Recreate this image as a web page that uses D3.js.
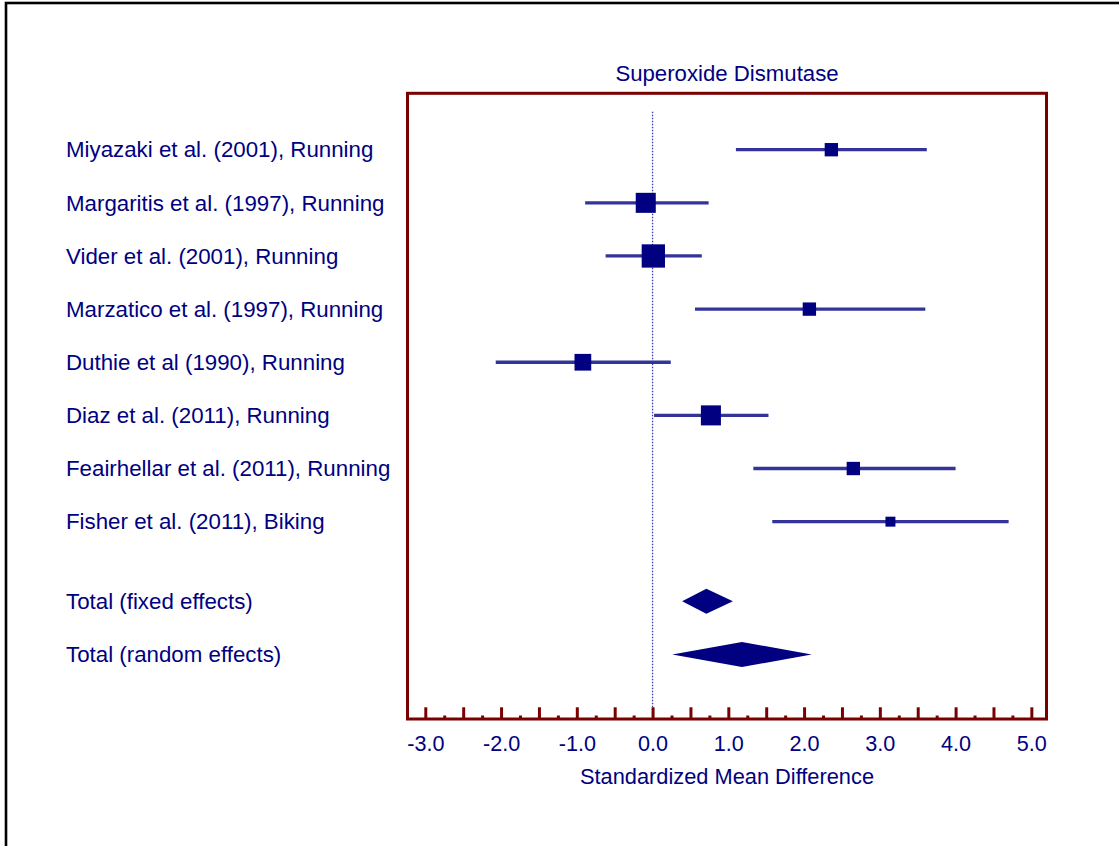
<!DOCTYPE html>
<html>
<head>
<meta charset="utf-8">
<script src="https://cdn.jsdelivr.net/npm/d3@7"></script>
<style>
  html, body { margin: 0; padding: 0; background: #fff; overflow: hidden; }
  svg { display: block; }
  text { font-family: Arial, "Liberation Sans", sans-serif; fill: #000080; }
</style>
</head>
<body>
<svg id="chart" width="1119" height="846"></svg>
<script>
// Forest plot: superoxide dismutase, standardized mean difference per study
const studies = [
  "Miyazaki et al. (2001), Running",
  "Margaritis et al. (1997), Running",
  "Vider et al. (2001), Running",
  "Marzatico et al. (1997), Running",
  "Duthie et al (1990), Running",
  "Diaz et al. (2011), Running",
  "Feairhellar et al. (2011), Running",
  "Fisher et al. (2011), Biking"
];
const estimates = [2.36, -0.09, 0.01, 2.07, -0.92, 0.77, 2.65, 3.14];
const ciLower   = [1.10, -0.89, -0.62, 0.56, -2.07, 0.02, 1.33, 1.58];
const ciUpper   = [3.62, 0.74, 0.65, 3.60, 0.24, 1.53, 4.00, 4.70];
const weights   = [7.9, 17.8, 24.1, 7.9, 12.4, 17.8, 7.9, 4.4];

const summaryLabels = ["Total (fixed effects)", "Total (random effects)"];
const summaryEst    = [0.71, 1.18];
const summaryLower  = [0.39, 0.26];
const summaryUpper  = [1.06, 2.10];

const majorTicks = d3.range(-3, 5.001, 0.5);
const minorTicks = d3.range(-2.75, 5, 0.5);
const tickLabels = ["-3.0", "-2.0", "-1.0", "0.0", "1.0", "2.0", "3.0", "4.0", "5.0"];

const title = "Superoxide Dismutase";
const xTitle = "Standardized Mean Difference";

// layout
const frame = { left: 407.5, right: 1046.5, top: 93.3, bottom: 719 };
const navy = "#000080";
const lineBlue = "#333399";
const maroon = "#780000";

const svg = d3.select("#chart");

// outer border
svg.append("rect")
  .attr("x", 6).attr("y", 3)
  .attr("width", 1300).attr("height", 1000)
  .attr("fill", "none").attr("stroke", "#000").attr("stroke-width", 2.6);

const x = d3.scaleLinear().domain([-3.235, 5.2]).range([frame.left, frame.right]);
const rowY = d3.scaleLinear().domain([0, 9.5]).range([149.7, 654.5]);
const boxSize = d3.scaleSqrt().domain([0, d3.max(weights)]).range([0, 23.3]);

// frame
svg.append("rect")
  .attr("x", frame.left).attr("y", frame.top)
  .attr("width", frame.right - frame.left).attr("height", frame.bottom - frame.top)
  .attr("fill", "none").attr("stroke", maroon).attr("stroke-width", 3);

// title
svg.append("text")
  .attr("x", (frame.left + frame.right) / 2).attr("y", 81)
  .attr("text-anchor", "middle").style("font-size", "22.2px")
  .text(title);

// line of no effect
svg.append("line")
  .attr("x1", x(0)).attr("x2", x(0))
  .attr("y1", 111.7).attr("y2", frame.bottom)
  .attr("stroke", "#3a3aa6").attr("stroke-width", 1.3)
  .attr("stroke-dasharray", "1.5,1.5");

// axis: major ticks with labels, minor ticks, pointing into the frame
const labelMap = new Map(d3.range(-3, 5.001, 1).map((v, i) => [v.toFixed(1), tickLabels[i]]));
const majorAxis = d3.axisBottom(x)
  .tickValues(majorTicks)
  .tickSizeInner(-11.7).tickSizeOuter(0).tickPadding(17)
  .tickFormat(d => labelMap.get(d.toFixed(1)) || "");
const minorAxis = d3.axisBottom(x)
  .tickValues(minorTicks)
  .tickSizeInner(-3.5).tickSizeOuter(0)
  .tickFormat("");

const gMajor = svg.append("g").attr("transform", `translate(0,${frame.bottom})`).call(majorAxis);
const gMinor = svg.append("g").attr("transform", `translate(0,${frame.bottom})`).call(minorAxis);
[gMajor, gMinor].forEach(g => {
  g.select(".domain").remove();
  g.selectAll(".tick line").attr("stroke", maroon).attr("stroke-width", 3);
});
gMajor.selectAll(".tick text")
  .attr("fill", navy)
  .style("font-size", "21.6px")
  .style("font-family", "Arial, 'Liberation Sans', sans-serif");

svg.append("text")
  .attr("x", (frame.left + frame.right) / 2).attr("y", 784)
  .attr("text-anchor", "middle").style("font-size", "21.8px")
  .text(xTitle);

// study rows
const rows = studies.map((name, i) => ({
  name, est: estimates[i], lo: ciLower[i], hi: ciUpper[i], w: weights[i], y: rowY(i)
}));

svg.append("g").selectAll("text").data(rows).join("text")
  .attr("x", 66).attr("y", d => d.y + 7.7)
  .style("font-size", "22.3px")
  .text(d => d.name);

svg.append("g").selectAll("line").data(rows).join("line")
  .attr("x1", d => x(d.lo)).attr("x2", d => x(d.hi))
  .attr("y1", d => d.y).attr("y2", d => d.y)
  .attr("stroke", lineBlue).attr("stroke-width", 3.3);

svg.append("g").selectAll("rect").data(rows).join("rect")
  .attr("x", d => x(d.est) - boxSize(d.w) / 2)
  .attr("y", d => d.y - boxSize(d.w) / 2)
  .attr("width", d => boxSize(d.w)).attr("height", d => boxSize(d.w))
  .attr("fill", navy);

// pooled estimates
const pooled = summaryLabels.map((name, i) => ({
  name, est: summaryEst[i], lo: summaryLower[i], hi: summaryUpper[i], y: rowY(8.5 + i)
}));

svg.append("g").selectAll("text").data(pooled).join("text")
  .attr("x", 66).attr("y", d => d.y + 7.7)
  .style("font-size", "22.3px")
  .text(d => d.name);

const half = 12.5;
svg.append("g").selectAll("polygon").data(pooled).join("polygon")
  .attr("points", d => [
    [x(d.lo), d.y], [x(d.est), d.y - half], [x(d.hi), d.y], [x(d.est), d.y + half]
  ].map(p => p.join(",")).join(" "))
  .attr("fill", navy);
</script>
</body>
</html>
